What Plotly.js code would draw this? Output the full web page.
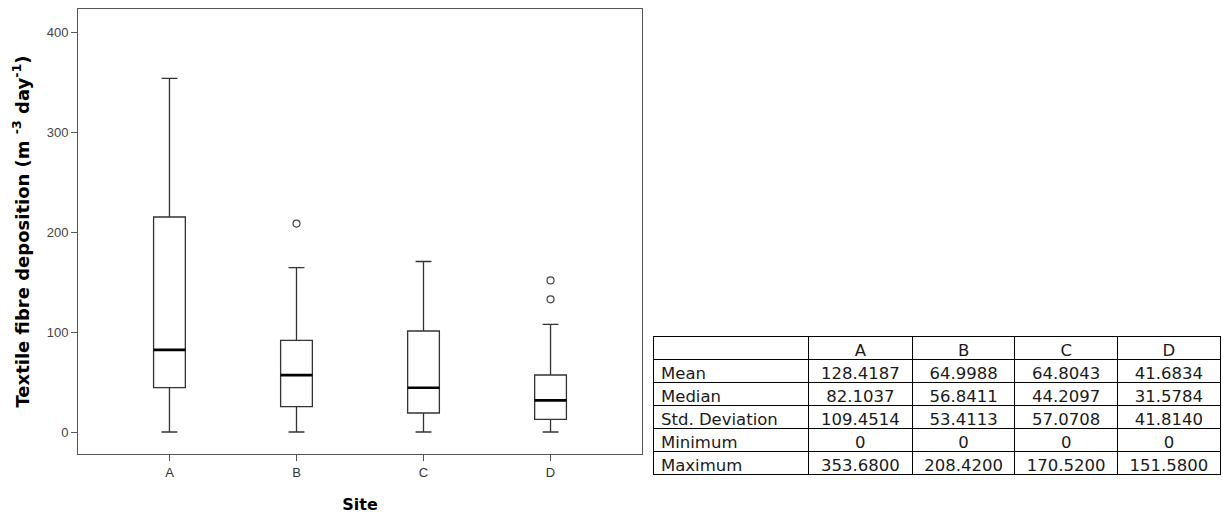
<!DOCTYPE html>
<html>
<head>
<meta charset="utf-8">
<script src="https://cdn.plot.ly/plotly-3.0.1.min.js"></script>
<style>html,body{margin:0;padding:0;background:#fff;}#chart{width:1223px;height:517px;}</style>
</head>
<body>
<div id="chart"></div>
<script>
// Box plot data
const sites = ['A', 'B', 'C', 'D'];
const lowerFence = [0, 0, 0, 0];
const q1 = [44.4, 25.4, 19.0, 12.7];
const medians = [82.1037, 56.8411, 44.2097, 31.5784];
const q3 = [215.0, 91.7, 101.0, 57.0];
const upperFence = [353.68, 164.4, 170.52, 107.7];
const outlierSites = ['B', 'D', 'D'];
const outlierValues = [208.42, 151.58, 132.7];

// Summary table
const statNames = ['Mean', 'Median', 'Std. Deviation', 'Minimum', 'Maximum'];
const colA = ['128.4187', '82.1037', '109.4514', '0', '353.6800'];
const colB = ['64.9988', '56.8411', '53.4113', '0', '208.4200'];
const colC = ['64.8043', '44.2097', '57.0708', '0', '170.5200'];
const colD = ['41.6834', '31.5784', '41.8140', '0', '151.5800'];

const W = 1223, H = 517;
const lineCol = '#333333';
const tableFont = {family: 'DejaVu Sans', size: 16.5, color: '#1a1a1a'};

const traces = [
  {
    type: 'box', x: sites, q1: q1, median: medians, q3: q3,
    lowerfence: lowerFence, upperfence: upperFence,
    boxpoints: false, width: 0.25, whiskerwidth: 0.5,
    fillcolor: 'rgba(255,255,255,1)',
    line: {color: lineCol, width: 1.3},
    hoverinfo: 'skip', showlegend: false
  },
  {
    // thicker median line overlay
    type: 'box', x: sites, q1: medians, median: medians, q3: medians,
    lowerfence: medians, upperfence: medians,
    boxpoints: false, width: 0.25, whiskerwidth: 0,
    fillcolor: 'rgba(0,0,0,0)',
    line: {color: '#000000', width: 2.6},
    hoverinfo: 'skip', showlegend: false
  },
  {
    type: 'scatter', mode: 'markers', x: outlierSites, y: outlierValues,
    marker: {symbol: 'circle-open', size: 7, color: '#444444', line: {width: 1.2}},
    hoverinfo: 'skip', showlegend: false
  },
  {
    type: 'table',
    domain: {x: [653 / W, 1220 / W], y: [0, 1 - 336 / H]},
    columnwidth: [155, 104, 102, 103, 102],
    header: {
      values: [' '].concat(sites),
      align: ['left', 'center'],
      height: 23,
      line: {color: '#000000', width: 1},
      fill: {color: '#ffffff'},
      font: tableFont
    },
    cells: {
      values: [statNames, colA, colB, colC, colD],
      align: ['left', 'center'],
      height: 23,
      line: {color: '#000000', width: 1},
      fill: {color: '#ffffff'},
      font: tableFont
    }
  }
];

const layout = {
  width: W, height: H,
  margin: {l: 0, r: 0, t: 0, b: 0},
  paper_bgcolor: '#ffffff', plot_bgcolor: '#ffffff',
  showlegend: false,
  xaxis: {
    domain: [78 / W, 642 / W],
    type: 'category', categoryorder: 'array', categoryarray: sites,
    range: [-0.72, 3.72],
    showgrid: false, zeroline: false,
    showline: true, linecolor: '#555555', linewidth: 1, mirror: true,
    ticks: 'outside', ticklen: 6, tickcolor: '#555555',
    tickfont: {family: 'Liberation Sans, Arial', size: 13, color: '#333333'},
    title: {text: 'Site', font: {family: 'DejaVu Sans', size: 16, color: '#000000', weight: 'bold'}, standoff: 20},
    automargin: false, fixedrange: true
  },
  yaxis: {
    domain: [1 - 454 / H, 1 - 9 / H],
    range: [-22, 423],
    tickvals: [0, 100, 200, 300, 400],
    showgrid: false, zeroline: false,
    showline: true, linecolor: '#555555', linewidth: 1, mirror: true,
    ticks: 'outside', ticklen: 6, tickcolor: '#555555',
    tickfont: {family: 'Liberation Sans Narrow, Liberation Sans, Arial', size: 13, color: '#444444'},
    title: {text: 'Textile fibre deposition (m <sup>-3</sup> day<sup>-1</sup>)', font: {family: 'DejaVu Sans', size: 18, color: '#000000', weight: 'bold'}, standoff: 12},
    automargin: false, fixedrange: true
  }
};

Plotly.newPlot('chart', traces, layout, {staticPlot: true, displayModeBar: false});
</script>
</body>
</html>
